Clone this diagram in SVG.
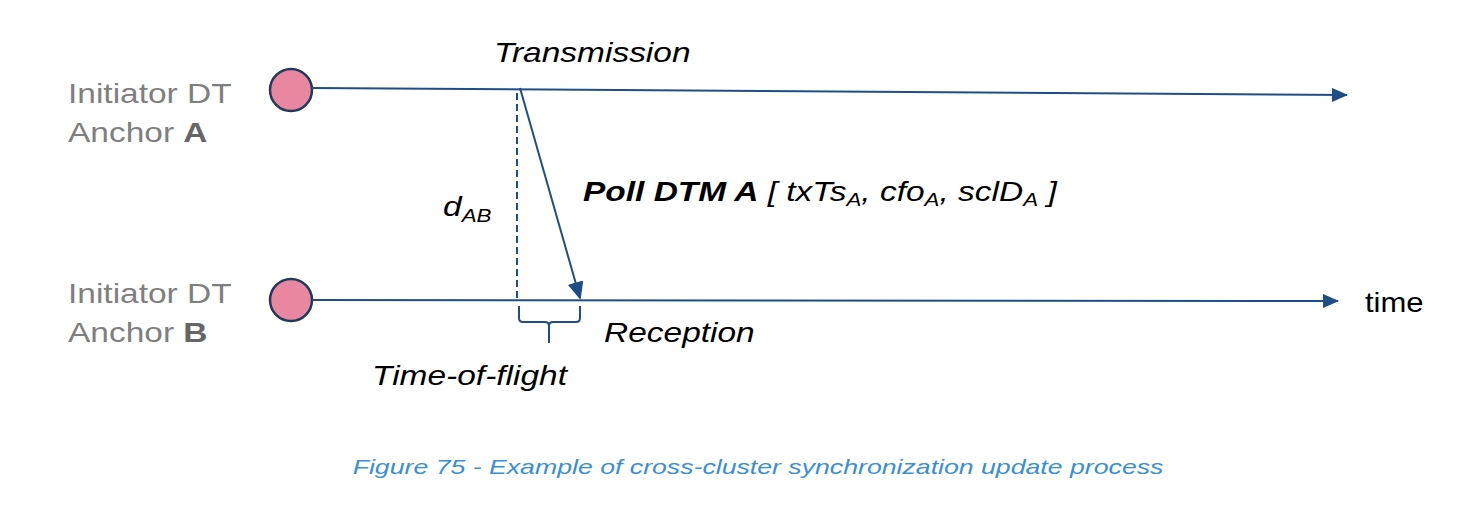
<svg xmlns="http://www.w3.org/2000/svg" width="1467" height="513" viewBox="0 0 1467 513">
<style>
.lbl{font-family:"Liberation Sans",Arial,sans-serif;font-size:27px;fill:#7f7f7f}
.it{font-family:"Liberation Sans",Arial,sans-serif;font-size:27px;font-style:italic;fill:#000}
.ln{stroke:#1f4e86;stroke-width:2;fill:none}
.node{fill:#e8879f;stroke:#1f3a5a;stroke-width:2.5}
</style>
<defs>
<marker id="ah" markerWidth="16" markerHeight="14" refX="15" refY="7" orient="auto" markerUnits="userSpaceOnUse" viewBox="0 0 16 14"><path d="M0,0L16,7L0,14z" fill="#1f4e86"/></marker>
<marker id="ah2" markerWidth="18" markerHeight="16" refX="16" refY="8" orient="auto" markerUnits="userSpaceOnUse" viewBox="0 0 18 16"><path d="M0,0L18,8L0,16z" fill="#1f4e86"/></marker>
</defs>
<rect width="1467" height="513" fill="#fff"/>
<g id="nodeA"><circle class="node" cx="291" cy="90" r="21"/><g transform="translate(68,0) scale(1.24,1)"><text class="lbl" x="0" y="103">Initiator DT</text><text class="lbl" x="0" y="142">Anchor <tspan font-weight="bold" fill="#666">A</tspan></text></g></g>
<g id="nodeB"><circle class="node" cx="291" cy="300" r="21"/><g transform="translate(68,0) scale(1.24,1)"><text class="lbl" x="0" y="303">Initiator DT</text><text class="lbl" x="0" y="342">Anchor <tspan font-weight="bold" fill="#666">B</tspan></text></g></g>
<g id="connectors">
<line class="ln" x1="312" y1="88" x2="1347" y2="95" marker-end="url(#ah)"/>
<line class="ln" x1="312" y1="300" x2="1338" y2="301" marker-end="url(#ah)"/>
<line class="ln" x1="517" y1="93" x2="517" y2="298" stroke-dasharray="7,4"/>
<line class="ln" stroke-width="3" x1="520" y1="88" x2="580" y2="298" marker-end="url(#ah2)"/>
<path class="ln" d="M519,306 V318 Q519,322 523,322 H545 Q549,322 549,326 V343 M549,326 Q549,322 553,322 H576 Q580,322 580,318 V306"/>
</g>
<g transform="translate(494,0) scale(1.24,1)"><text class="it" x="0" y="62">Transmission</text></g>
<g transform="translate(604,0) scale(1.24,1)"><text class="it" x="0" y="342">Reception</text></g>
<g transform="translate(372,0) scale(1.24,1)"><text class="it" x="0" y="385">Time-of-flight</text></g>
<g transform="translate(443,0) scale(1.24,1)"><text class="it" x="0" y="216">d<tspan font-size="18" dy="6">AB</tspan></text></g>
<g transform="translate(583,0) scale(1.24,1)"><text class="it" x="0" y="201"><tspan font-weight="bold">Poll DTM A</tspan> [ txTs<tspan font-size="18" dy="5">A</tspan><tspan dy="-5">, cfo</tspan><tspan font-size="18" dy="5">A</tspan><tspan dy="-5">, sclD</tspan><tspan font-size="18" dy="5">A</tspan><tspan dy="-5"> ]</tspan></text></g>
<g transform="translate(1365,0) scale(1.15,1)"><text x="0" y="312" style="font-family:'Liberation Sans',Arial,sans-serif;font-size:27px;fill:#000">time</text></g>
<g transform="translate(758,0) scale(1.27,1)"><text x="0" y="474" text-anchor="middle" style="font-family:'Liberation Sans',Arial,sans-serif;font-size:21px;font-style:italic;fill:#3a8fd4">Figure 75 - Example of cross-cluster synchronization update process</text></g>
</svg>
